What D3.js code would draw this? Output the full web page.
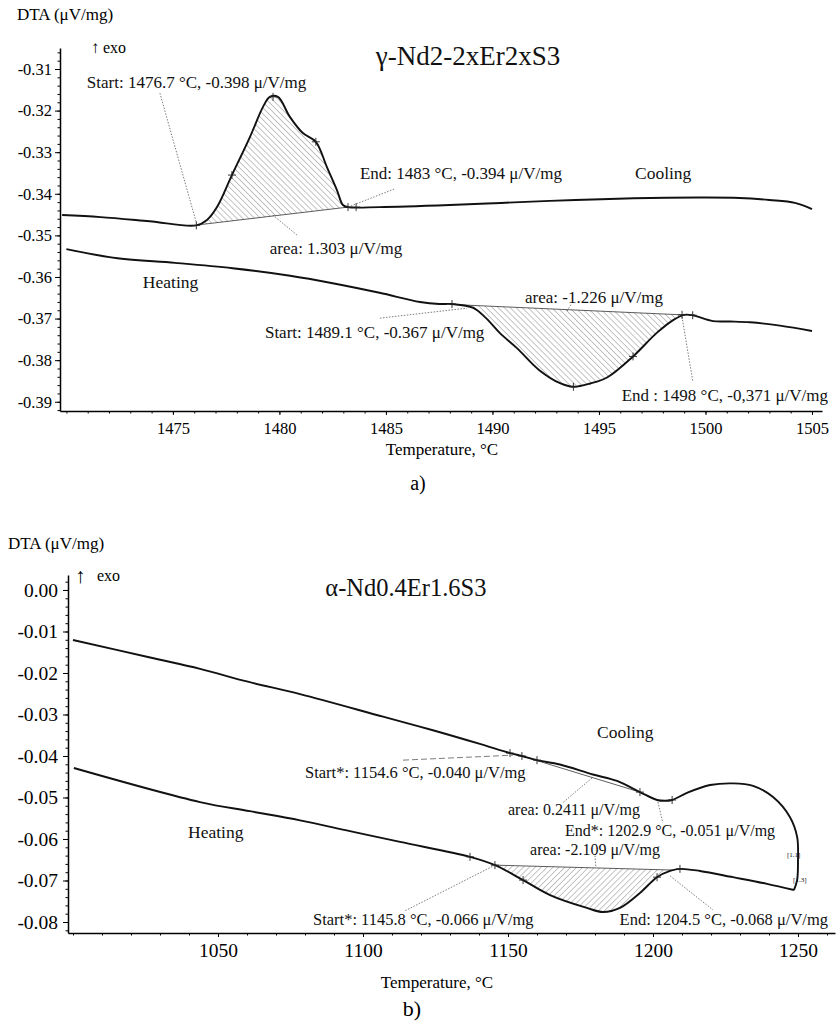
<!DOCTYPE html>
<html>
<head>
<meta charset="utf-8">
<script src="https://cdn.jsdelivr.net/npm/d3@7/dist/d3.min.js"></script>
<style>
  body { margin: 0; background: #fff; }
  svg { display: block; font-family: "Liberation Serif", "Times New Roman", serif; }
  .axis path, .axis line { stroke: #000; }
  .axis text { fill: #000; font-family: "Liberation Serif", "Times New Roman", serif; }
</style>
</head>
<body>
<svg id="chart" width="836" height="1023"></svg>
<script>
// ---- panel a) : gamma-Nd2-2xEr2xS3 ----
const aCoolT = [1469.8, 1471.6, 1473.9, 1476.1, 1476.6, 1477.07, 1477.77, 1478.62, 1479.23, 1479.55, 1479.93,
  1480.49, 1481.1, 1481.71, 1482.23, 1482.7, 1482.98, 1483.22, 1484.7, 1488.0, 1490.4, 1492.7, 1495.1,
  1497.4, 1499.7, 1501.6, 1503.0, 1504.2, 1505.0];
const aCoolV = [-0.3451, -0.3456, -0.3466, -0.3476, -0.3463, -0.3432, -0.3355, -0.3263, -0.3191, -0.3167, -0.3167,
  -0.3215, -0.3254, -0.3275, -0.3336, -0.3391, -0.3427, -0.3432, -0.3432, -0.3427, -0.3422, -0.3417, -0.3413,
  -0.3410, -0.3409, -0.3410, -0.3415, -0.3422, -0.3437];
const aHeatT = [1470.0, 1472.4, 1475.1, 1477.8, 1480.5, 1482.5, 1484.7, 1486.6, 1487.5, 1488.1, 1489.1, 1489.7,
  1490.35, 1491.15, 1492.2, 1493.2, 1493.8, 1494.6, 1495.4, 1496.6, 1497.7, 1498.5, 1499.0, 1499.4, 1500.35,
  1501.15, 1502.1, 1503.5, 1505.0];
const aHeatV = [-0.3533, -0.3555, -0.3566, -0.3579, -0.3597, -0.3615, -0.3638, -0.3660, -0.3665, -0.3665, -0.3674, -0.3699,
  -0.3735, -0.3771, -0.3824, -0.3856, -0.3864, -0.3856, -0.3841, -0.3791, -0.3735, -0.3703, -0.3691, -0.3692, -0.3706,
  -0.3707, -0.3709, -0.3717, -0.3730];
const aCoolBase = [[1476.13, -0.3475], [1483.22, -0.3432]];
const aHeatBase = [[1488.5, -0.3667], [1498.9, -0.3691]];
const aCoolMarks = [[1476.1, -0.3476], [1477.77, -0.3355], [1479.7, -0.3167], [1481.71, -0.3275], [1483.22, -0.3432], [1483.6, -0.3432]];
const aHeatMarks = [[1488.1, -0.3665], [1493.8, -0.3864], [1496.6, -0.3791], [1498.9, -0.3691], [1499.4, -0.3692]];
const aXTicks = [1475, 1480, 1485, 1490, 1495, 1500, 1505];
const aYTicks = [-0.31, -0.32, -0.33, -0.34, -0.35, -0.36, -0.37, -0.38, -0.39];

// ---- panel b) : alpha-Nd0.4Er1.6S3 ----
const bCoolT = [1000.0, 1026.6, 1043.8, 1060.3, 1078.3, 1106.9, 1124.1, 1140.3, 1150.7, 1154.8, 1160.0, 1167.9, 1179.3, 1187.6,
  1195.5, 1201.4, 1204.1, 1206.6, 1211.7, 1219.7, 1227.6, 1234.5, 1241.4, 1247.2, 1249.7, 1250.0, 1249.7, 1248.6];
const bCoolV = [-0.01205, -0.01627, -0.0190, -0.0221, -0.0251, -0.03053, -0.0338, -0.0371, -0.0393, -0.0400, -0.0410, -0.04205, -0.04446, -0.04602,
  -0.0487, -0.0506, -0.0508, -0.0506, -0.0489, -0.0470, -0.0466, -0.0472, -0.0499, -0.0547, -0.0595, -0.0651, -0.0699, -0.0723];
const bHeatT = [1000.3, 1043.8, 1061.0, 1078.3, 1095.5, 1112.8, 1136.9, 1145.5, 1155.2, 1164.5, 1177.2, 1182.8, 1188.6, 1195.5,
  1201.4, 1205.9, 1209.3, 1216.2, 1227.6, 1239.3, 1248.6];
const bHeatV = [-0.0429, -0.0511, -0.0533, -0.0555, -0.0581, -0.0607, -0.0643, -0.0663, -0.0699, -0.0735, -0.0766, -0.0776, -0.0766, -0.0730,
  -0.0692, -0.0677, -0.0672, -0.0677, -0.0692, -0.0708, -0.0723];
const bCoolBase = [[1154.8, -0.0400], [1195.5, -0.0487]];
const bHeatBase = [[1145.5, -0.0663], [1207.6, -0.0675]];
const bCoolMarks = [[1150.7, -0.0393], [1154.8, -0.0400], [1160.0, -0.0410], [1195.5, -0.0487], [1206.6, -0.0506]];
const bHeatMarks = [[1136.9, -0.0643], [1145.5, -0.0663], [1155.2, -0.0699], [1201.4, -0.0692], [1209.3, -0.0672]];
const bXTicks = [1050, 1100, 1150, 1200, 1250];
const bYTicks = [0, -0.01, -0.02, -0.03, -0.04, -0.05, -0.06, -0.07, -0.08];

const svg = d3.select('#chart');

// hatch patterns
const defs = svg.append('defs');
function hatch(id, angle) {
  const p = defs.append('pattern').attr('id', id)
    .attr('patternUnits', 'userSpaceOnUse')
    .attr('width', 4.2).attr('height', 4.2)
    .attr('patternTransform', 'rotate(' + angle + ')');
  p.append('line').attr('x1', 0).attr('y1', 0).attr('x2', 0).attr('y2', 4.2)
    .attr('stroke', '#555').attr('stroke-width', 0.7);
}
hatch('hatchBack', -45);
hatch('hatchFwd', 45);

const panels = [
  {
    left: 60, right: 822, top: 48, bottom: 411,
    xDomain: [1469.7, 1505.47], yDomain: [-0.39222, -0.30495],
    xTicks: aXTicks, yTicks: aYTicks,
    xMinor: d3.range(1470, 1506, 1), yMinor: d3.range(-0.392, -0.3049, 0.002),
    tickFont: 16.5, xPad: 7, yPad: 3,
    curves: [
      { t: aCoolT, v: aCoolV, base: aCoolBase, marks: aCoolMarks, fill: 'hatchBack' },
      { t: aHeatT, v: aHeatV, base: aHeatBase, marks: aHeatMarks, fill: 'hatchBack' }
    ],
    leaders: [
      { from: [1474.39, -0.3158], to: [1476.13, -0.3475], dash: '1.5,1.5' },
      { from: [1483.22, -0.3432], to: [1485.42, -0.3388], dash: '1.5,1.5' },
      { from: [1479.69, -0.3451], to: [1480.82, -0.3499], dash: '1.5,1.5' },
      { from: [1484.72, -0.3699], to: [1488.8, -0.3675], dash: '1.5,1.5' },
      { from: [1498.9, -0.3696], to: [1499.41, -0.3852], dash: '1.5,1.5' },
      { from: [1493.5, -0.3682], to: [1493.7, -0.3665], dash: '1.5,1.5' }
    ],
    labels: [
      { text: 'Start: 1476.7 °C, -0.398 μ/V/mg', at: [1470.96, -0.31457], anchor: 'start', size: 17 },
      { text: 'End: 1483 °C, -0.394 μ/V/mg', at: [1493.26, -0.33644], anchor: 'end', size: 17 },
      { text: 'area: 1.303 μ/V/mg', at: [1479.55, -0.35447], anchor: 'start', size: 17 },
      { text: 'Cooling', at: [1496.69, -0.33644], anchor: 'start', size: 17.5 },
      { text: 'Heating', at: [1473.59, -0.36264], anchor: 'start', size: 17.5 },
      { text: 'Start: 1489.1 °C, -0.367 μ/V/mg', at: [1479.32, -0.37466], anchor: 'start', size: 17 },
      { text: 'area: -1.226 μ/V/mg', at: [1491.53, -0.36625], anchor: 'start', size: 17 },
      { text: 'End : 1498 °C, -0,371 μ/V/mg', at: [1505.75, -0.3898], anchor: 'end', size: 17 },
      { text: 'γ-Nd2-2xEr2xS3', at: [1488.85, -0.30904], anchor: 'middle', size: 27 }
    ],
    exo: { arrow: [91, 53], text: [103, 53], size: 16, arrowSize: 17 },
    yTitle: [17, 20], xTitle: [442, 455], caption: { text: 'a)', at: [418, 490], size: 20 }
  },
  {
    left: 68, right: 835, top: 575, bottom: 933,
    xDomain: [998.28, 1262.76], yDomain: [-0.08265, 0.00361],
    xTicks: bXTicks, yTicks: bYTicks,
    xMinor: d3.range(1000, 1261, 10), yMinor: d3.range(-0.082, 0.0031, 0.002),
    tickFont: 19.5, xPad: 6, yPad: 5,
    curves: [
      { t: bCoolT, v: bCoolV, base: bCoolBase, marks: bCoolMarks, fill: null },
      { t: bHeatT, v: bHeatV, base: bHeatBase, marks: bHeatMarks, fill: 'hatchFwd' }
    ],
    leaders: [
      { from: [1113.8, -0.0410], to: [1151.7, -0.0398], dash: '6,3' },
      { from: [1178.97, -0.0453], to: [1168.97, -0.0512], dash: '1.5,1.5' },
      { from: [1201.7, -0.0511], to: [1203.4, -0.0561], dash: '1.5,1.5' },
      { from: [1145.5, -0.0663], to: [1114.5, -0.0773], dash: '1.5,1.5' },
      { from: [1205.9, -0.0689], to: [1220.7, -0.0771], dash: '1.5,1.5' },
      { from: [1180.0, -0.0640], to: [1180.3, -0.0669], dash: '1.5,1.5' }
    ],
    labels: [
      { text: 'Start*: 1154.6 °C, -0.040 μ/V/mg', at: [1080.0, -0.0453], anchor: 'start', size: 16.5 },
      { text: 'area: 0.2411 μ/V/mg', at: [1150.0, -0.05422], anchor: 'start', size: 16 },
      { text: 'End*: 1202.9 °C, -0.051 μ/V/mg', at: [1169.66, -0.05928], anchor: 'start', size: 16 },
      { text: 'area: -2.109 μ/V/mg', at: [1157.6, -0.06385], anchor: 'start', size: 16 },
      { text: 'Start*: 1145.8 °C, -0.066 μ/V/mg', at: [1082.76, -0.08072], anchor: 'start', size: 16.5 },
      { text: 'End: 1204.5 °C, -0.068 μ/V/mg', at: [1260.34, -0.08072], anchor: 'end', size: 16.5 },
      { text: 'Cooling', at: [1180.69, -0.03566], anchor: 'start', size: 17.5 },
      { text: 'Heating', at: [1039.66, -0.05976], anchor: 'start', size: 17.5 },
      { text: '[1.1]', at: [1246.2, -0.06434], anchor: 'start', size: 7 },
      { text: '[1.3]', at: [1248.3, -0.07036], anchor: 'start', size: 7 },
      { text: 'α-Nd0.4Er1.6S3', at: [1114.8, -0.00145], anchor: 'middle', size: 24.5 }
    ],
    exo: { arrow: [75, 583], text: [97, 581], size: 16, arrowSize: 21 },
    yTitle: [8, 549], xTitle: [437, 988], caption: { text: 'b)', at: [412, 1016], size: 22 }
  }
];

panels.forEach(drawPanel);

function drawPanel(p) {
  const x = d3.scaleLinear().domain(p.xDomain).range([p.left, p.right]);
  const y = d3.scaleLinear().domain(p.yDomain).range([p.bottom, p.top]);
  const g = svg.append('g');

  // minor ticks
  g.append('g').attr('class', 'axis')
    .attr('transform', 'translate(0,' + p.bottom + ')')
    .call(d3.axisBottom(x).tickValues(p.xMinor).tickSize(2.5).tickFormat(''))
    .call(s => s.select('.domain').remove());
  g.append('g').attr('class', 'axis')
    .attr('transform', 'translate(' + p.left + ',0)')
    .call(d3.axisLeft(y).tickValues(p.yMinor).tickSize(2.5).tickFormat(''))
    .call(s => s.select('.domain').remove());

  // major ticks + axis lines
  g.append('g').attr('class', 'axis')
    .attr('transform', 'translate(0,' + p.bottom + ')')
    .call(d3.axisBottom(x).tickValues(p.xTicks).tickSizeInner(4).tickSizeOuter(0).tickPadding(p.xPad).tickFormat(d => d))
    .call(s => s.selectAll('text').attr('font-size', p.tickFont))
    .call(s => s.select('.domain').attr('stroke-width', 1.5));
  g.append('g').attr('class', 'axis')
    .attr('transform', 'translate(' + p.left + ',0)')
    .call(d3.axisLeft(y).tickValues(p.yTicks).tickSizeInner(5).tickSizeOuter(0).tickPadding(p.yPad).tickFormat(d => d.toFixed(2)))
    .call(s => s.selectAll('text').attr('font-size', p.tickFont))
    .call(s => s.select('.domain').attr('stroke-width', 1.5));

  const line = d3.line().x(d => x(d[0])).y(d => y(d[1])).curve(d3.curveCatmullRom.alpha(0.5));

  p.curves.forEach(c => {
    const pts = c.t.map((t, i) => [t, c.v[i]]);
    const t0 = c.base[0][0], t1 = c.base[1][0];
    // hatched peak area, closed back along the baseline
    if (c.fill) {
      const inner = pts.filter(d => d[0] > t0 + 0.01 && d[0] < t1 - 0.01);
      g.append('path')
        .attr('d', line([c.base[0]].concat(inner, [c.base[1]])) + 'Z')
        .attr('fill', 'url(#' + c.fill + ')')
        .attr('stroke', 'none');
    }
    // baseline
    g.append('line')
      .attr('x1', x(c.base[0][0])).attr('y1', y(c.base[0][1]))
      .attr('x2', x(c.base[1][0])).attr('y2', y(c.base[1][1]))
      .attr('stroke', '#333').attr('stroke-width', 0.8);
    // signal
    g.append('path').attr('d', line(pts))
      .attr('fill', 'none').attr('stroke', '#111').attr('stroke-width', 1.9);
    // "+" markers
    g.selectAll(null).data(c.marks).enter().append('path')
      .attr('d', d => {
        const cx = x(d[0]), cy = y(d[1]);
        return 'M' + (cx - 4) + ',' + cy + 'H' + (cx + 4) + 'M' + cx + ',' + (cy - 4) + 'V' + (cy + 4);
      })
      .attr('stroke', '#222').attr('stroke-width', 0.9);
  });

  // leader lines
  g.selectAll(null).data(p.leaders).enter().append('line')
    .attr('x1', d => x(d.from[0])).attr('y1', d => y(d.from[1]))
    .attr('x2', d => x(d.to[0])).attr('y2', d => y(d.to[1]))
    .attr('stroke', '#444').attr('stroke-width', 0.7)
    .attr('stroke-dasharray', d => d.dash);

  // annotations
  g.selectAll(null).data(p.labels).enter().append('text')
    .attr('x', d => x(d.at[0])).attr('y', d => y(d.at[1]))
    .attr('text-anchor', d => d.anchor)
    .attr('font-size', d => d.size)
    .attr('fill', '#111')
    .text(d => d.text);

  // exo arrow, axis titles, caption
  g.append('text').attr('x', p.exo.arrow[0]).attr('y', p.exo.arrow[1])
    .attr('font-size', p.exo.arrowSize).text('↑');
  g.append('text').attr('x', p.exo.text[0]).attr('y', p.exo.text[1])
    .attr('font-size', p.exo.size).text('exo');
  g.append('text').attr('x', p.yTitle[0]).attr('y', p.yTitle[1])
    .attr('font-size', 17).text('DTA (μV/mg)');
  g.append('text').attr('x', p.xTitle[0]).attr('y', p.xTitle[1])
    .attr('text-anchor', 'middle').attr('font-size', 17).text('Temperature, °C');
  g.append('text').attr('x', p.caption.at[0]).attr('y', p.caption.at[1])
    .attr('text-anchor', 'middle').attr('font-size', p.caption.size).text(p.caption.text);
}
</script>
</body>
</html>
